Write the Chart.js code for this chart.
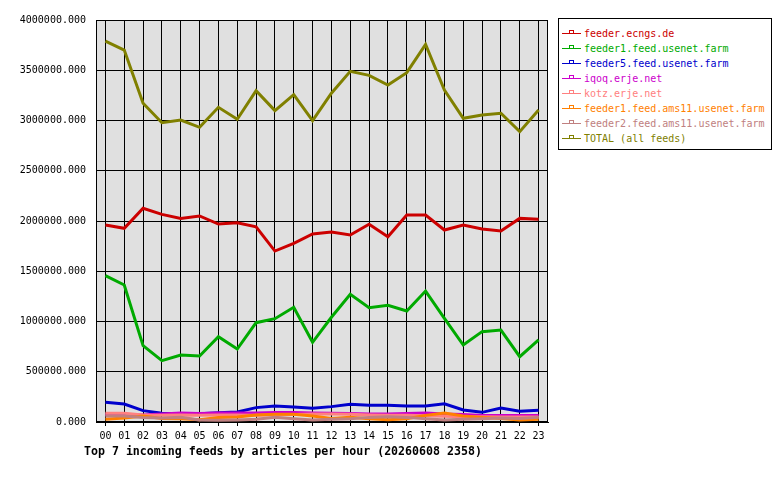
<!DOCTYPE html>
<html>
<head>
<meta charset="utf-8">
<script src="https://cdn.jsdelivr.net/npm/chart.js@4/dist/chart.umd.min.js"></script>
<style>
  body { margin: 0; background: #fff; }
  #wrap { position: relative; width: 780px; height: 480px; }
  #legend {
    position: absolute; left: 558px; top: 18px; width: 212px; height: 123px;
    border: 1px solid #000; background: #fff; padding-top: 7px; box-sizing: content-box;
    font: 10px "DejaVu Sans Mono", monospace;
  }
  .row { position: relative; height: 15px; line-height: 15px; white-space: nowrap; }
  .row .ln { position: absolute; left: 3px; top: 7px; width: 19px; height: 1px; }
  .row .mk { position: absolute; left: 10px; top: 4px; width: 3px; height: 2px; border: 1px solid; border-bottom: none; }
  .row .tx { position: absolute; left: 25px; top: 0; }
</style>
</head>
<body>
<div id="wrap">
  <canvas id="feedChart" width="780" height="480"></canvas>
  <div id="legend"></div>
</div>
<script>
'use strict';

const hours = ['00', '01', '02', '03', '04', '05', '06', '07', '08', '09', '10', '11',
  '12', '13', '14', '15', '16', '17', '18', '19', '20', '21', '22', '23'];

const feedNames = [
  'feeder.ecngs.de',
  'feeder1.feed.usenet.farm',
  'feeder5.feed.usenet.farm',
  'iqoq.erje.net',
  'kotz.erje.net',
  'feeder1.feed.ams11.usenet.farm',
  'feeder2.feed.ams11.usenet.farm',
  'TOTAL (all feeds)',
];

const feedColors = ['#cc0000', '#00aa00', '#0000cc', '#cc00cc', '#ff8080', '#ff8000', '#c08080', '#808000'];

const ecngs = [1960000, 1927000, 2126000, 2066000, 2026000, 2050000, 1970000, 1983000, 1943000, 1701000, 1778000, 1871000,
  1890000, 1861000, 1967000, 1844000, 2060000, 2060000, 1910000, 1960000, 1920000, 1900000, 2026000, 2017000];
const usenetFarm1 = [1456000, 1363000, 759000, 610000, 667000, 657000, 849000, 726000, 988000, 1028000, 1141000, 793000,
  1042000, 1270000, 1137000, 1161000, 1104000, 1303000, 1032000, 766000, 899000, 915000, 650000, 816000];
const usenetFarm5 = [196000, 179000, 113000, 86000, 84000, 82000, 93000, 100000, 143000, 159000, 149000, 136000,
  153000, 176000, 166000, 166000, 159000, 159000, 182000, 119000, 96000, 139000, 106000, 116000];
const iqoq = [75000, 75000, 70000, 80000, 90000, 85000, 90000, 90000, 90000, 95000, 95000, 90000,
  88000, 85000, 80000, 80000, 85000, 90000, 80000, 75000, 65000, 65000, 65000, 65000];
const kotz = [86000, 86000, 70000, 66000, 70000, 66000, 70000, 70000, 66000, 72000, 75000, 80000,
  80000, 78000, 70000, 66000, 66000, 62000, 56000, 53000, 53000, 50000, 50000, 50000];
const ams11a = [27000, 40000, 60000, 36000, 33000, 23000, 46000, 50000, 70000, 76000, 76000, 60000,
  36000, 46000, 33000, 23000, 33000, 66000, 90000, 60000, 46000, 36000, 20000, 27000];
const ams11b = [60000, 60000, 46000, 40000, 46000, 20000, 17000, 20000, 27000, 46000, 33000, 20000,
  27000, 33000, 46000, 53000, 46000, 33000, 20000, 27000, 33000, 40000, 36000, 46000];
const total = [3790000, 3701000, 3171000, 2978000, 3005000, 2932000, 3131000, 3012000, 3297000, 3098000, 3257000, 2998000,
  3271000, 3489000, 3449000, 3353000, 3476000, 3758000, 3303000, 3022000, 3055000, 3072000, 2889000, 3104000];

const feedValues = [ecngs, usenetFarm1, usenetFarm5, iqoq, kotz, ams11a, ams11b, total];

const caption = 'Top 7 incoming feeds by articles per hour (20260608 2358)';
const monoFont = '"DejaVu Sans Mono", monospace';

// Plotflaeche grau hinterlegen und schwarz umrahmen
const plotFrame = {
  id: 'plotFrame',
  beforeDraw(chart) {
    const { ctx, chartArea: a } = chart;
    ctx.save();
    ctx.fillStyle = '#e0e0e0';
    ctx.fillRect(a.left, a.top, a.right - a.left, a.bottom - a.top);
    ctx.restore();
  },
  beforeDatasetsDraw(chart) {
    const { ctx, chartArea: a } = chart;
    ctx.save();
    ctx.strokeStyle = '#000';
    ctx.lineWidth = 1;
    ctx.strokeRect(Math.round(a.left) + 0.5, Math.round(a.top) + 0.5,
      Math.round(a.right - a.left) - 1, Math.round(a.bottom - a.top) - 1);
    ctx.restore();
  },
  afterDraw(chart) {
    const { ctx } = chart;
    ctx.save();
    ctx.font = 'bold 11.6px ' + monoFont;
    ctx.fillStyle = '#000';
    ctx.textBaseline = 'middle';
    ctx.fillText(caption, 84, 452);
    ctx.restore();
  },
};

const ctx = document.getElementById('feedChart').getContext('2d');
new Chart(ctx, {
  type: 'line',
  data: {
    labels: hours,
    datasets: feedNames.map((name, i) => ({
      label: name,
      data: feedValues[i],
      borderColor: feedColors[i],
      backgroundColor: feedColors[i],
      borderWidth: 3,
      pointRadius: 0,
      tension: 0,
      order: -i,
    })),
  },
  options: {
    responsive: false,
    animation: false,
    layout: { padding: { left: 0, top: 20, right: 232, bottom: 24 } },
    plugins: {
      legend: { display: false },
      tooltip: { enabled: false },
    },
    scales: {
      x: {
        offset: true,
        afterFit: scale => { scale.height = 34; },
        grid: { color: '#000', lineWidth: 1, tickLength: 4, offset: false },
        border: { color: '#000' },
        ticks: { color: '#000', font: { family: monoFont, size: 10 }, padding: 4, maxRotation: 0, autoSkip: false },
      },
      y: {
        min: 0,
        max: 4000000,
        afterFit: scale => { scale.width = 96; },
        grid: { color: '#000', lineWidth: 1, drawTicks: false },
        border: { color: '#000' },
        ticks: {
          stepSize: 500000,
          color: '#000',
          padding: 10,
          font: { family: monoFont, size: 10 },
          callback: value => value.toFixed(3),
        },
      },
    },
  },
  plugins: [plotFrame],
});

// Legende als HTML aufbauen
const legend = document.getElementById('legend');
feedNames.forEach((name, i) => {
  const row = document.createElement('div');
  row.className = 'row';
  const line = document.createElement('span');
  line.className = 'ln';
  line.style.background = feedColors[i];
  const mark = document.createElement('span');
  mark.className = 'mk';
  mark.style.borderColor = feedColors[i];
  const text = document.createElement('span');
  text.className = 'tx';
  text.style.color = feedColors[i];
  text.textContent = name;
  row.appendChild(line);
  row.appendChild(mark);
  row.appendChild(text);
  legend.appendChild(row);
});
</script>
</body>
</html>
